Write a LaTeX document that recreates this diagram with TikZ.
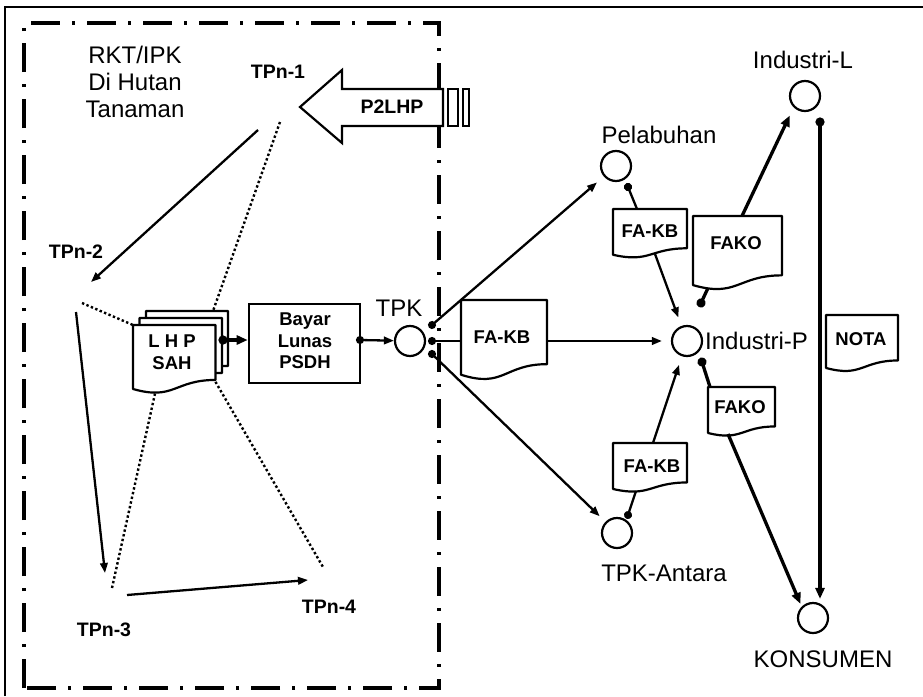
\documentclass[tikz,border=0pt]{standalone}
\usepackage{fontspec}
\setmainfont{Liberation Sans}
\usetikzlibrary{arrows.meta,calc}
\newcommand\docoutline[1]{%
  \draw[docline] (#1.north west) -- (#1.north east)
    -- ($(#1.north east)!0.802!(#1.south east)$)
    .. controls ($(#1.north)!0.802!(#1.south)$) and ($(#1.north)!1.107!(#1.south)$)
    .. ($(#1.north west)!0.934!(#1.south west)$) -- cycle;}
\begin{document}
\begin{tikzpicture}[x=1pt,y=-1pt,
  lbl/.style={font=\fontsize{24}{27}\selectfont, inner sep=0},
  tpn/.style={font=\bfseries\fontsize{19.5}{22}\selectfont, inner sep=0},
  doctxt/.style={font=\bfseries\fontsize{18.5}{21.5}\selectfont, inner sep=0, align=center},
  docbox/.style={inner sep=0, outer sep=0},
  docline/.style={line width=2.2pt, fill=white, line join=round},
  site/.style={circle, draw, line width=2.2pt, minimum size=30pt, inner sep=0},
  conn/.style={line width=2.3pt, -{Triangle[length=10pt,width=7.5pt]}},
  thickconn/.style={line width=3.3pt, -{Triangle[length=11pt,width=9pt]}},
  dconn/.style={line width=2.3pt, {Circle[length=8pt]}-{Triangle[length=10pt,width=7.5pt]}, shorten <=-4pt},
  dthick/.style={line width=3.3pt, {Circle[length=9pt]}-{Triangle[length=11pt,width=9pt]}, shorten <=-4.5pt},
  dline/.style={line width=2.3pt, {Circle[length=8pt]}-, shorten <=-4pt},
  dthickline/.style={line width=3.3pt, {Circle[length=9pt]}-, shorten <=-4.5pt},
  dotln/.style={line width=2.4pt, dash pattern=on 2.4pt off 2.4pt},
  frame/.style={line width=3.2pt, dash pattern=on 29pt off 12pt on 3pt off 12pt}]
\useasboundingbox (0,0) rectangle (923,696);
\fill[white] (0,0) rectangle (923,696);
% outer frame
\draw[line width=2.2pt] (5,696) -- (5,7) -- (923,7);
% dash-dot area
\draw[frame] (24,688) -- (24,23) -- (439,23) -- (439,688) -- cycle;
% P2LHP arrow
\draw[line width=2.2pt, fill=white, line join=miter] (300,107) -- (342,70) -- (342,89) -- (443,89) -- (443,126) -- (342,126) -- (342,143) -- cycle;
\draw[line width=2pt, fill=white] (448,89) rectangle (458,126);
\draw[line width=2pt, fill=white] (463,89) rectangle (469,126);
\node[tpn] (p2lhp) at (392,107) {P2LHP};
% area labels
\node[lbl, align=center] (rkt) at (135,82) {RKT/IPK\\Di Hutan\\Tanaman};
\node[tpn] (tpn1) at (278,72) {TPn-1};
\node[tpn] (tpn2) at (76,252) {TPn-2};
\node[tpn] (tpn3) at (104,630) {TPn-3};
\node[tpn] (tpn4) at (329,607) {TPn-4};
% LHP stack
\node[docbox, minimum width=82pt, minimum height=68.5pt] (lhp3) at (187,345.25) {};
\docoutline{lhp3}
\node[docbox, minimum width=82.5pt, minimum height=68.5pt] (lhp2) at (180.75,352.25) {};
\docoutline{lhp2}
\node[docbox, minimum width=82.5pt, minimum height=68.5pt] (lhp1) at (174.25,359.25) {};
\docoutline{lhp1}
\node[doctxt, font=\bfseries\fontsize{18.5}{22}\selectfont] (lhpT) at (172,352) {L H P\\SAH};
% Bayar box
\node[draw, line width=2.6pt, minimum width=111pt, minimum height=79pt, inner sep=0] (bayar) at (304.5,343.5) {};
\node[doctxt] (bayarT) at (305,341) {Bayar\\Lunas\\PSDH};
% sites
\node[site] (tpk) at (410,341) {};
\node[site] (pel) at (616,166) {};
\node[site] (indL) at (805,96) {};
\node[site] (indP) at (687,341) {};
\node[site] (tpka) at (617,533) {};
\node[site] (kons) at (813,618) {};
\node[lbl] (tpkL) at (399,308) {TPK};
\node[lbl] (pelL) at (659,135) {Pelabuhan};
\node[lbl] (indLL) at (803,60) {Industri-L};
\node[lbl, anchor=west] (indPL) at (705,341) {Industri-P};
\node[lbl] (tpkaL) at (664,573) {TPK-Antara};
\node[lbl] (konsL) at (823,659) {KONSUMEN};
% documents
\node[docbox, minimum width=86pt, minimum height=80pt] (fakb) at (504,340) {};
\docoutline{fakb}
\node[doctxt] (fakbT) at (502,337) {FA-KB};
\node[docbox, minimum width=74pt, minimum height=49pt] (fakbU) at (650,233.5) {};
\docoutline{fakbU}
\node[doctxt] (fakbUT) at (650,231) {FA-KB};
\node[docbox, minimum width=89pt, minimum height=74pt] (fakoU) at (737.5,253) {};
\docoutline{fakoU}
\node[doctxt] (fakoUT) at (736,243) {FAKO};
\node[docbox, minimum width=72pt, minimum height=56.7pt] (nota) at (862,343.35) {};
\docoutline{nota}
\node[doctxt] (notaT) at (861,339) {NOTA};
\node[docbox, minimum width=67pt, minimum height=49.25pt] (fakoL) at (741.5,411.6) {};
\docoutline{fakoL}
\node[doctxt] (fakoLT) at (740,407) {FAKO};
\node[docbox, minimum width=74pt, minimum height=49.25pt] (fakbL) at (650,467.6) {};
\docoutline{fakbL}
\node[doctxt] (fakbLT) at (652,466) {FA-KB};
% free ends and dots
\coordinate (c1a) at (258,130);
\coordinate (c1b) at (280,122);
\coordinate (c2a) at (91,282);
\coordinate (c2b) at (82,303);
\coordinate (c2c) at (76,312);
\coordinate (c3a) at (105,573);
\coordinate (c3b) at (112,588);
\coordinate (c3c) at (127,595);
\coordinate (c4a) at (308,580);
\coordinate (c4b) at (323,567);
\coordinate (dL) at (223,340);
\coordinate (dB) at (360,340);
\coordinate (dT1) at (432,325);
\coordinate (dT2) at (432,341);
\coordinate (dT3) at (432,354);
\coordinate (dP) at (628,187);
\coordinate (dA) at (628,515);
\coordinate (dI1) at (701,303);
\coordinate (dI2) at (702,362);
\coordinate (dIL) at (820,122);
\coordinate (fakbUb) at (655,254);
\coordinate (fakbLb) at (636,491);
\coordinate (fakbLt) at (653,443);
\coordinate (fakoUb) at (708,288);
\coordinate (fakoUt) at (742,216);
\coordinate (fakoLt) at (710,387);
\coordinate (fakoLb) at (728,434);
% forest connectors
\draw[conn] (c1a) -- (c2a);
\draw[conn] (c2c) -- (c3a);
\draw[conn] (c3c) -- (c4a);
\draw[dotln] (c1b) -- ([xshift=-15pt]lhp3.north east);
\draw[dotln] (c2b) -- (lhp1.north west);
\draw[dotln] ([xshift=22pt]lhp1.south west) -- (c3b);
\draw[dotln] ($(lhp1.north east)!0.83!(lhp1.south east)$) -- (c4b);
% main flow
\draw[dthick] (dL) -- (dL -| bayar.west);
\draw[dconn] (dB) -- (tpk);
\draw[dconn, shorten >=9pt] (dT1) -- (pel);
\draw[dline] (dT2) -- (dT2 -| fakb.west);
\draw[conn, shorten >=9pt] (dT2 -| fakb.east) -- (indP);
\draw[dconn, shorten >=8pt] (dT3) -- (tpka);
\draw[dline] (dP) -- (fakbU.north -| 637,0);
\draw[conn, shorten >=9pt] (fakbUb) -- (indP);
\draw[dline] (dA) -- (fakbLb);
\draw[conn, shorten >=9pt] (fakbLt) -- (indP);
\draw[dthickline] (dI1) -- (fakoUb);
\draw[thickconn, shorten >=9pt] (fakoUt) -- (indL.south west);
\draw[dthickline] (dI2) -- (fakoLt);
\draw[thickconn, shorten >=3pt] (fakoLb) -- (kons.north west);
\draw[dthick, shorten >=3pt] (dIL) -- (dIL |- kons.north);
\end{tikzpicture}
\end{document}
